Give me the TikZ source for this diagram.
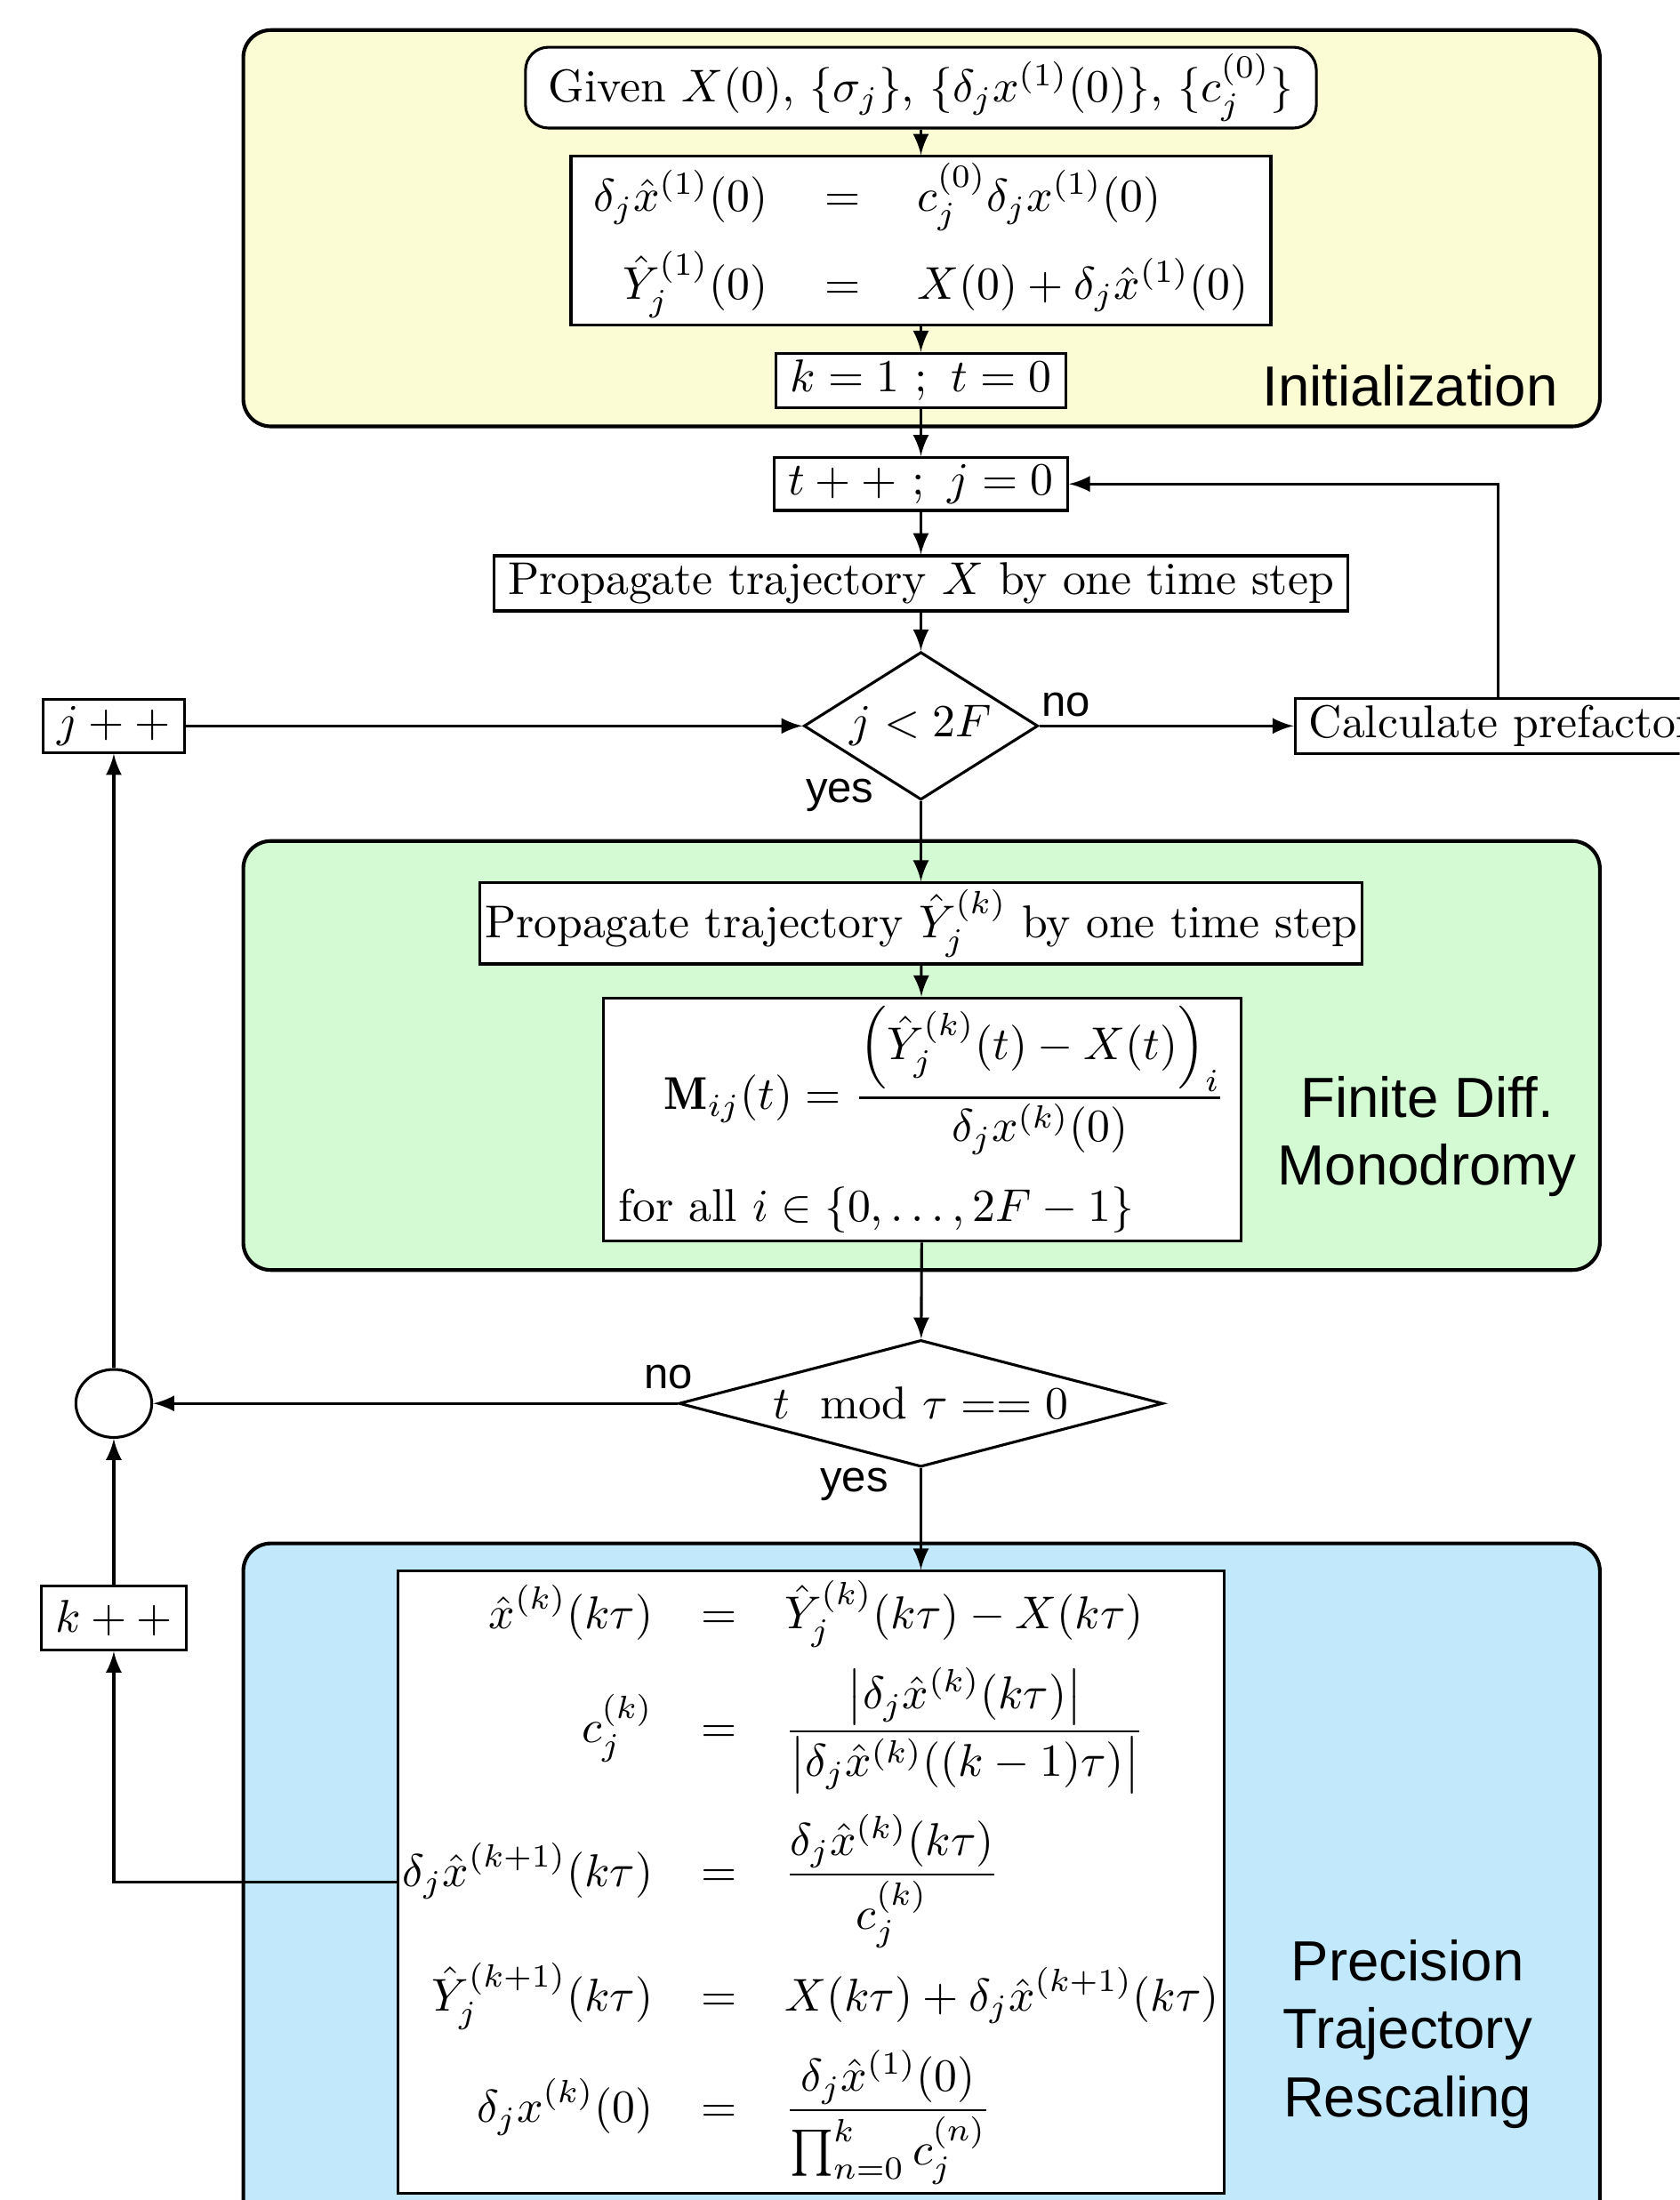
\documentclass[tikz,border=0pt]{standalone}
\usepackage{amsmath}
\usepackage{amssymb}
\usepackage{array}
\usepackage{fontspec}
\usepackage{xcolor}
\usetikzlibrary{shapes}

\newfontfamily\labelfont{Liberation Sans}
\definecolor{InitYellow}{RGB}{252,252,212}
\definecolor{DiffGreen}{RGB}{211,250,211}
\definecolor{RescaleBlue}{RGB}{194,233,251}

\tikzset{
  stepbox/.style={draw, fill=white, line width=0.6pt, inner xsep=3pt, inner ysep=1.5pt},
  startbox/.style={stepbox, rounded corners=5pt, inner xsep=5pt},
  decision/.style={draw, fill=white, diamond, line width=0.6pt, inner sep=0pt},
  stage/.style={draw, line width=0.8pt, rounded corners=6pt},
  stagelabel/.style={align=center, font=\labelfont\fontsize{12.3}{14.8}\selectfont},
  answer/.style={font=\labelfont\fontsize{9.5}{11}\selectfont},
  flow/.style={->, >=latex, line width=0.6pt}
}

\begin{document}
\begin{tikzpicture}
  \clip (0,0) rectangle (12.84,16.82);

  % the three stages
  \draw [stage, fill=InitYellow]  (1.86,13.56) rectangle (12.23,16.59);
  \draw [stage, fill=DiffGreen]   (1.86,7.11)  rectangle (12.23,10.39);
  \draw [stage, fill=RescaleBlue] (1.86,-0.5)  rectangle (12.23,5.02);

  \node [stagelabel] (initname) at (10.78,13.87) {Initialization};
  \node [stagelabel] (diffname) at (10.91,8.13) {Finite Diff.\\Monodromy};
  \node [stagelabel] (rescname) at (10.76,1.27) {Precision\\Trajectory\\Rescaling};

  % initialization
  \node [startbox] (given) at (7.04,16.15)
    {Given $X(0)$, $\{\sigma_j\}$, $\{\delta_j x^{(1)}(0)\}$, $\{c_j^{(0)}\}$};
  \node [stepbox, minimum width=5.35cm, minimum height=1.22cm] (initeq) at (7.04,14.98)
    {\arraycolsep=6.2pt$\begin{array}{@{}rcl@{}}
      \delta_j\hat{x}^{(1)}(0) & = & c_j^{(0)}\delta_j x^{(1)}(0)\\[5pt]
      \hat{Y}_j^{(1)}(0) & = & X(0)+\delta_j\hat{x}^{(1)}(0)
    \end{array}$};
  \node [stepbox] (kinit) at (7.04,13.91) {$k=1\ ;\ t=0$};

  % time loop
  \node [stepbox] (tstep) at (7.04,13.12) {$t++\ ;\ j=0$};
  \node [stepbox] (propx) at (7.04,12.36) {Propagate trajectory $X$ by one time step};
  \node [decision, aspect=1.6, minimum width=1.79cm, minimum height=1.13cm] (jtest) at (7.04,11.27) {$j<2F$};
  \node [stepbox, anchor=west] (prefac) at (9.89,11.27) {Calculate prefactor};
  \node [stepbox] (jinc) at (0.87,11.27) {$j++$};

  % finite differences
  \node [stepbox, inner xsep=1pt, minimum height=0.62cm] (propy) at (7.04,9.76)
    {Propagate trajectory $\hat{Y}_j^{(k)}$ by one time step};
  \node [stepbox, align=left, minimum width=4.87cm, minimum height=1.86cm] (mono) at (7.05,8.26)
    {\hspace*{0.35cm}$\displaystyle\mathbf{M}_{ij}(t)=\frac{\left(\hat{Y}_j^{(k)}(t)-X(t)\right)_i}{\delta_j x^{(k)}(0)}$\\[6pt]
     for all $i\in\{0,\dots,2F-1\}$};
  \node [decision, aspect=3.8, minimum width=3.70cm, minimum height=0.97cm] (ttest) at (7.04,6.09)
    {$t\mod{\tau}==0$};
  \node [draw, ellipse, line width=0.6pt, minimum width=0.58cm, minimum height=0.52cm, inner sep=0pt] (merge) at (0.87,6.09) {};
  \node [stepbox, minimum height=0.49cm] (kinc) at (0.87,4.45) {$k++$};

  % rescaling
  \node [stepbox, inner xsep=1pt, inner ysep=2pt] (rescale) at (6.20,2.43)
    {\arraycolsep=5.2pt$\begin{array}{@{}>{\displaystyle}r>{\displaystyle}c>{\displaystyle}l@{}}
      \hat{x}^{(k)}(k\tau) & = & \hat{Y}_j^{(k)}(k\tau)-X(k\tau)\\[5pt]
      c_j^{(k)} & = & \frac{\left|\delta_j\hat{x}^{(k)}(k\tau)\right|}{\left|\delta_j\hat{x}^{(k)}((k-1)\tau)\right|}\\[12pt]
      \delta_j\hat{x}^{(k+1)}(k\tau) & = & \frac{\delta_j\hat{x}^{(k)}(k\tau)}{c_j^{(k)}}\\[13pt]
      \hat{Y}_j^{(k+1)}(k\tau) & = & X(k\tau)+\delta_j\hat{x}^{(k+1)}(k\tau)\\[5pt]
      \delta_j x^{(k)}(0) & = & \frac{\delta_j\hat{x}^{(1)}(0)}{\prod_{n=0}^{k}c_j^{(n)}}
    \end{array}$};

  % connectors
  \draw [flow] (given) -- (initeq);
  \draw [flow] (initeq) -- (kinit);
  \draw [flow] (kinit) -- (tstep);
  \draw [flow] (tstep) -- (propx);
  \draw [flow] (propx) -- (jtest);
  \draw [flow] (jtest.east) -- (prefac.west);
  \draw [flow] (jinc.east) -- (jtest.west);
  \coordinate (backup) at (11.45,13.12);
  \draw [flow] (prefac.north -| backup) -- (backup) -- (tstep.east);
  \draw [flow] (jtest.south) -- (propy.north);
  \draw [flow] (propy) -- (mono);
  \draw [flow] (mono) -- (ttest);
  \draw [flow] (ttest.west) -- (merge.east);
  \draw [flow] (merge) -- (jinc);
  \draw [flow] (kinc) -- (merge);
  \draw [flow] (ttest.south) -- (ttest.south |- rescale.north);
  \draw [flow] (rescale.west) -| (kinc.south);

  \node [answer] (nojtest) at (8.15,11.43) {no};
  \node [answer] (yesjtest) at (6.42,10.74) {yes};
  \node [answer] (nottest) at (5.11,6.29) {no};
  \node [answer] (yesttest) at (6.53,5.47) {yes};
\end{tikzpicture}
\end{document}
